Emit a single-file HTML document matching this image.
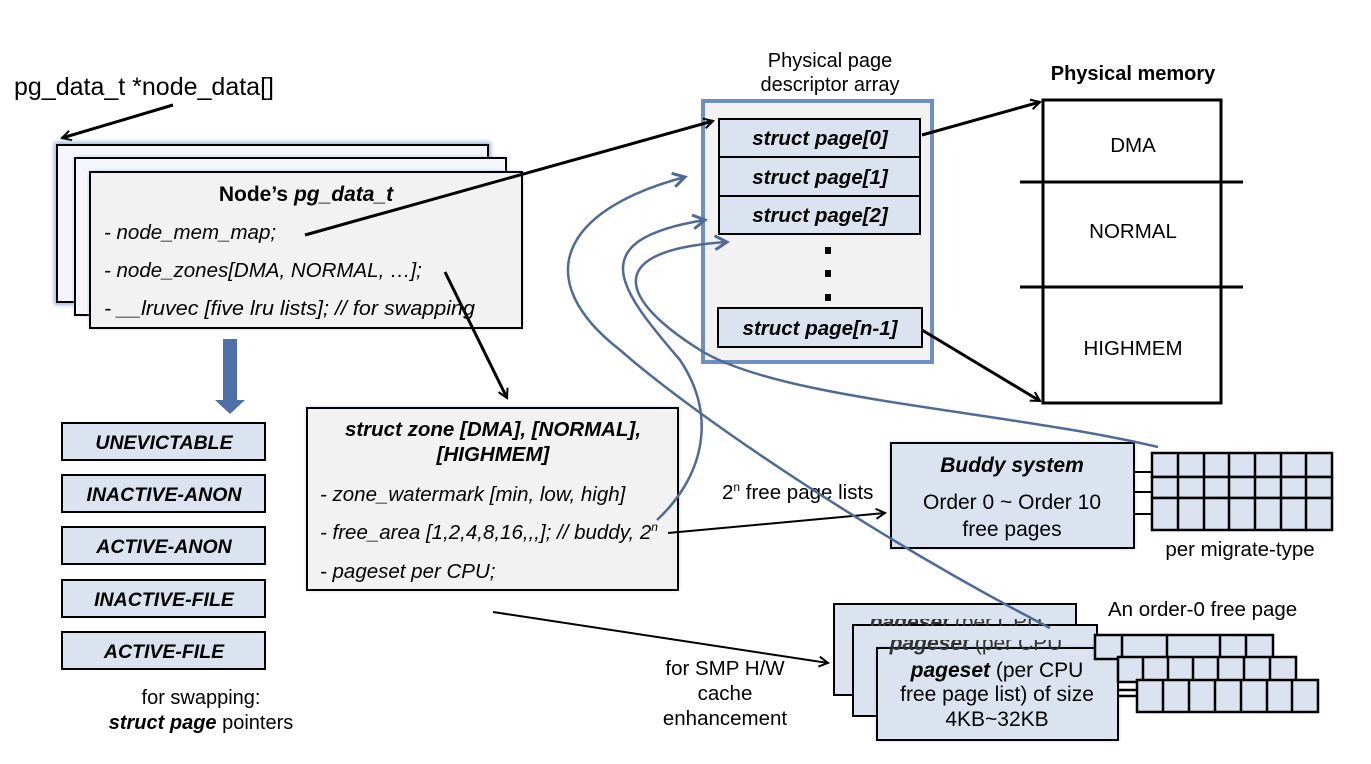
<!DOCTYPE html>
<html><head><meta charset="utf-8"><style>
html,body{margin:0;padding:0;background:#fff;}
svg{display:block;font-family:"Liberation Sans",Arial,sans-serif;}
</style></head><body>
<svg width="1371" height="764" viewBox="0 0 1371 764" xmlns="http://www.w3.org/2000/svg">
<defs>
<marker id="ah" markerWidth="12" markerHeight="12" refX="10" refY="6" orient="auto" markerUnits="userSpaceOnUse">
<path d="M1,1 L10,6 L1,11" fill="none" stroke="#000" stroke-width="2"/>
</marker>
<marker id="bh" markerWidth="16" markerHeight="16" refX="13" refY="8" orient="auto" markerUnits="userSpaceOnUse">
<path d="M1,1 L13,8 L1,15" fill="none" stroke="#4f6a95" stroke-width="3"/>
</marker>
<filter id="gl" x="-10%" y="-10%" width="120%" height="120%"><feGaussianBlur stdDeviation="2"/></filter>
</defs>

<text x="14" y="95" font-size="25">pg_data_t *node_data[]</text>
<line x1="173" y1="105" x2="62" y2="138" stroke="#000" stroke-width="3" marker-end="url(#ah)"/>

<!-- node stack -->
<g stroke="#000" stroke-width="2">
<rect x="57" y="145" width="431" height="157" fill="#f4f6fb" stroke="#9fb6dc" stroke-width="6" filter="url(#gl)"/>
<rect x="57" y="145" width="431" height="157" fill="#f4f6fb"/>
<rect x="75" y="158" width="431" height="157" fill="#9fb6dc" stroke="none" filter="url(#gl)"/>
<rect x="75" y="158" width="431" height="157" fill="#f4f6fb"/>
<rect x="90" y="172" width="432" height="156" fill="#9fb6dc" stroke="none" filter="url(#gl)"/>
<rect x="90" y="172" width="432" height="156" fill="#f2f2f2"/>
</g>
<text x="306" y="201" font-size="21" font-weight="bold" text-anchor="middle">Node’s <tspan font-style="italic">pg_data_t</tspan></text>
<g font-size="20.5" font-style="italic">
<text x="104" y="239">- node_mem_map;</text>
<text x="104" y="277">- node_zones[DMA, NORMAL, …];</text>
<text x="104" y="315" textLength="371" lengthAdjust="spacingAndGlyphs">- __lruvec [five lru lists]; // for swapping</text>
</g>

<!-- blue down arrow -->
<path d="M223,339 L237,339 L237,400 L245,400 L230,414 L215,400 L223,400 Z" fill="#4f6fa8"/>

<!-- LRU boxes -->
<g stroke="#000" stroke-width="2" fill="#dbe3f0">
<rect x="62" y="423" width="203" height="37"/>
<rect x="62" y="475" width="203" height="37"/>
<rect x="62" y="527" width="203" height="37"/>
<rect x="62" y="580" width="203" height="37"/>
<rect x="62" y="632" width="203" height="37"/>
</g>
<g font-size="19.5" font-weight="bold" font-style="italic" text-anchor="middle">
<text x="164" y="449">UNEVICTABLE</text>
<text x="164" y="501">INACTIVE-ANON</text>
<text x="164" y="553">ACTIVE-ANON</text>
<text x="164" y="606">INACTIVE-FILE</text>
<text x="164" y="658">ACTIVE-FILE</text>
</g>
<text x="201" y="704" font-size="20" text-anchor="middle">for swapping:</text>
<text x="201" y="729" font-size="20" text-anchor="middle"><tspan font-weight="bold" font-style="italic">struct page</tspan> pointers</text>

<!-- zone box -->
<rect x="307" y="408" width="371" height="182" fill="#9fb6dc" filter="url(#gl)"/>
<rect x="307" y="408" width="371" height="182" fill="#f2f2f2" stroke="#000" stroke-width="2"/>
<g font-size="20.5" font-weight="bold" font-style="italic" text-anchor="middle">
<text x="493" y="436">struct zone [DMA], [NORMAL],</text>
<text x="493" y="461">[HIGHMEM]</text>
</g>
<g font-size="20.5" font-style="italic">
<text x="320" y="501">- zone_watermark [min, low, high]</text>
<text x="320" y="539">- free_area [1,2,4,8,16,,,]; // buddy, 2<tspan font-size="12" dy="-8">n</tspan></text>
<text x="320" y="578">- pageset per CPU;</text>
</g>

<!-- page descriptor array -->
<text x="830" y="67" font-size="20" text-anchor="middle">Physical page</text>
<text x="830" y="91" font-size="20" text-anchor="middle">descriptor array</text>
<rect x="703" y="101" width="229" height="261" fill="#f2f2f2" stroke="#6f8fc0" stroke-width="4"/>
<g stroke="#000" stroke-width="2" fill="#dbe3f0">
<rect x="719" y="119" width="201" height="38"/>
<rect x="719" y="157" width="201" height="39"/>
<rect x="719" y="196" width="201" height="38"/>
<rect x="718" y="308" width="204" height="39"/>
</g>
<g font-size="20.5" font-weight="bold" font-style="italic" text-anchor="middle">
<text x="820" y="145">struct page[0]</text>
<text x="820" y="184">struct page[1]</text>
<text x="820" y="222">struct page[2]</text>
<text x="820" y="335">struct page[n-1]</text>
</g>
<rect x="825" y="247" width="6" height="7"/>
<rect x="825" y="270" width="6" height="7"/>
<rect x="825" y="294" width="6" height="7"/>

<!-- physical memory -->
<text x="1133" y="80" font-size="20" font-weight="bold" text-anchor="middle">Physical memory</text>
<rect x="1043" y="100" width="178" height="303" fill="#fff" stroke="#000" stroke-width="3"/>
<line x1="1020" y1="182" x2="1243" y2="182" stroke="#000" stroke-width="3"/>
<line x1="1020" y1="287" x2="1243" y2="287" stroke="#000" stroke-width="3"/>
<g font-size="20.5" text-anchor="middle">
<text x="1133" y="152">DMA</text>
<text x="1133" y="238">NORMAL</text>
<text x="1133" y="355">HIGHMEM</text>
</g>

<!-- buddy -->
<rect x="891" y="443" width="243" height="105" fill="#9fb6dc" filter="url(#gl)"/>
<rect x="891" y="443" width="243" height="105" fill="#dbe3f0" stroke="#000" stroke-width="2"/>
<text x="1012" y="472" font-size="21" font-weight="bold" font-style="italic" text-anchor="middle">Buddy system</text>
<text x="1012" y="509" font-size="21" text-anchor="middle">Order 0 ~ Order 10</text>
<text x="1012" y="536" font-size="21" text-anchor="middle">free pages</text>
<g stroke="#000" stroke-width="2">
<line x1="1134" y1="472" x2="1152" y2="472"/>
<line x1="1134" y1="492" x2="1152" y2="492"/>
<line x1="1134" y1="514" x2="1152" y2="514"/>
</g>
<g stroke="#000" stroke-width="2.5" fill="#dbe3f0">
<rect x="1152" y="453" width="180" height="24"/>
<rect x="1152" y="477" width="180" height="21"/>
<rect x="1152" y="498" width="180" height="32"/>
</g>
<g stroke="#000" stroke-width="2.5">
<line x1="1178" y1="453" x2="1178" y2="530"/><line x1="1204" y1="453" x2="1204" y2="530"/>
<line x1="1229" y1="453" x2="1229" y2="530"/><line x1="1255" y1="453" x2="1255" y2="530"/>
<line x1="1281" y1="453" x2="1281" y2="530"/><line x1="1306" y1="453" x2="1306" y2="530"/>
</g>
<text x="1240" y="556" font-size="20.5" text-anchor="middle">per migrate-type</text>
<text x="722" y="499" font-size="20.5">2<tspan font-size="12" dy="-8">n</tspan><tspan dy="8"> free page lists</tspan></text>

<!-- pageset stack -->
<g stroke="#000" stroke-width="2">
<rect x="834" y="604" width="242" height="91" fill="#dbe3f0"/>
<rect x="853" y="625" width="244" height="91" fill="#dbe3f0"/>
<rect x="877" y="648" width="241" height="92" fill="#9fb6dc" stroke="none" filter="url(#gl)"/>
<rect x="877" y="648" width="241" height="92" fill="#dbe3f0"/>
</g>
<text x="956" y="629" font-size="21" text-anchor="middle" fill="#333"><tspan font-weight="bold" font-style="italic">pageset</tspan> (per CPU</text>
<text x="976" y="650" font-size="21" text-anchor="middle" fill="#333"><tspan font-weight="bold" font-style="italic">pageset</tspan> (per CPU</text>
<rect x="835" y="605" width="240" height="14" fill="#dbe3f0"/>
<rect x="854" y="626" width="242" height="14" fill="#dbe3f0"/>
<text x="997" y="677" font-size="21" text-anchor="middle"><tspan font-weight="bold" font-style="italic">pageset</tspan> (per CPU</text>
<text x="997" y="701" font-size="21" text-anchor="middle">free page list) of size</text>
<text x="997" y="726" font-size="21" text-anchor="middle">4KB~32KB</text>
<g stroke="#000" stroke-width="2.5" fill="#dbe3f0">
<rect x="1095" y="635" width="178" height="24"/>
<rect x="1118" y="657" width="178" height="25"/>
<rect x="1137" y="680" width="181" height="32"/>
</g>
<g stroke="#000" stroke-width="2.5">
<line x1="1122" y1="635" x2="1122" y2="657"/><line x1="1167" y1="635" x2="1167" y2="657"/><line x1="1220" y1="635" x2="1220" y2="657"/><line x1="1246" y1="635" x2="1246" y2="657"/>
<line x1="1143" y1="657" x2="1143" y2="680"/><line x1="1168" y1="657" x2="1168" y2="680"/><line x1="1193" y1="657" x2="1193" y2="680"/><line x1="1218" y1="657" x2="1218" y2="680"/><line x1="1244" y1="657" x2="1244" y2="680"/><line x1="1270" y1="657" x2="1270" y2="680"/>
<line x1="1163" y1="680" x2="1163" y2="712"/><line x1="1189" y1="680" x2="1189" y2="712"/><line x1="1215" y1="680" x2="1215" y2="712"/><line x1="1241" y1="680" x2="1241" y2="712"/><line x1="1267" y1="680" x2="1267" y2="712"/><line x1="1292" y1="680" x2="1292" y2="712"/>
<line x1="1118" y1="690" x2="1137" y2="690"/><line x1="1118" y1="696" x2="1137" y2="696"/>
</g>
<text x="1108" y="616" font-size="20.5">An order-0 free page</text>
<g font-size="20.5" text-anchor="middle">
<text x="725" y="675">for SMP H/W</text>
<text x="725" y="700">cache</text>
<text x="725" y="725">enhancement</text>
</g>

<!-- black arrows -->
<g stroke="#000" stroke-width="3" fill="none">
<line x1="305" y1="235" x2="713" y2="121" marker-end="url(#ah)"/>
<line x1="445" y1="272" x2="507" y2="398" marker-end="url(#ah)"/>
<line x1="922" y1="135" x2="1040" y2="102" marker-end="url(#ah)"/>
<line x1="922" y1="330" x2="1040" y2="401" marker-end="url(#ah)"/>
</g>
<g stroke="#000" stroke-width="2" fill="none">
<line x1="668" y1="533" x2="885" y2="513" marker-end="url(#ah)"/>
<line x1="493" y1="612" x2="828" y2="663" marker-end="url(#ah)"/>
</g>

<!-- blue curves -->
<g stroke="#4f6a95" stroke-width="2.5" fill="none">
<path d="M1050,628 C 880,540 700,420 620,350 C 530,280 560,210 685,177" marker-end="url(#bh)"/>
<path d="M657,520 C 700,480 720,420 680,360 C 620,290 580,240 705,220" marker-end="url(#bh)"/>
<path d="M1158,447 C 1000,410 780,400 700,350 C 620,300 600,250 727,242" marker-end="url(#bh)"/>
</g>
</svg>
</body></html>
